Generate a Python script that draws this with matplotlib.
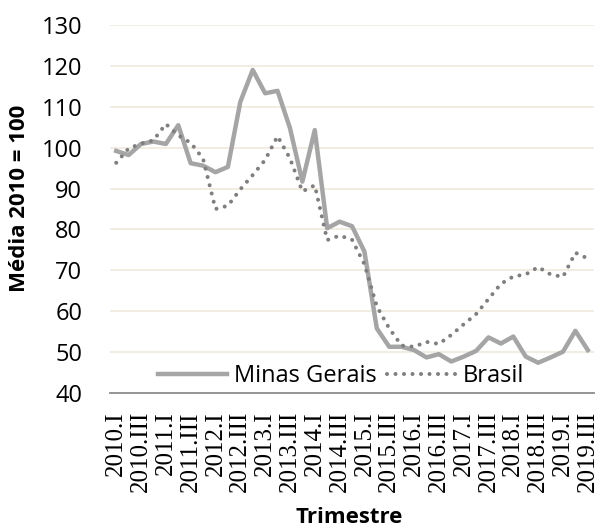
import matplotlib
matplotlib.use('Agg')
import matplotlib.pyplot as plt
import numpy as np

plt.rcParams['font.family'] = ['Open Sans', 'DejaVu Sans']

# quarters 2010.I .. 2019.III
quarters = []
for year in range(2010, 2020):
    for q in ['I', 'II', 'III', 'IV']:
        quarters.append(f'{year}.{q}')
quarters = quarters[:39]

minas_gerais = [99.2, 98.2, 100.9, 101.5, 100.9, 105.5, 96.2, 95.6, 94.0, 95.3,
                111.2, 119.0, 113.3, 113.9, 104.8, 91.7, 104.3, 80.3, 81.9, 80.8,
                74.6, 55.8, 51.3, 51.3, 50.5, 48.7, 49.5, 47.7, 48.9, 50.3,
                53.6, 52.1, 53.8, 48.9, 47.4, 48.7, 50.1, 55.2, 50.5]

brasil = [96.3, 99.8, 101.0, 101.8, 105.8, 103.0, 101.2, 97.3, 85.0, 85.8,
          89.8, 93.3, 97.0, 102.8, 97.4, 89.3, 90.8, 77.4, 78.5, 77.5,
          71.5, 61.2, 55.8, 51.6, 51.3, 52.5, 52.0, 54.2, 56.8, 59.3,
          63.0, 66.7, 68.5, 69.0, 70.8, 69.0, 68.4, 74.3, 72.9]

yticks = [40, 50, 60, 70, 80, 90, 100, 110, 120, 130]

W, H = 598, 529
fig = plt.figure(figsize=(W / 100, H / 100), dpi=100)
ax = fig.add_axes([110 / W, 1 - 393 / H, 484 / W, 368 / H])

x = np.arange(len(quarters))
ax.plot(x, minas_gerais, color='#A5A5A5', lw=3.2, solid_joinstyle='round',
        label='Minas Gerais', zorder=3)
ax.plot(x, brasil, color='#7F7F7F', lw=2.9, linestyle=(0, (0.01, 2.1)),
        dash_capstyle='round', label='Brasil', zorder=3)

ax.set_xlim(-0.5, len(quarters) - 0.5)
ax.set_ylim(40, 130)
ax.set_yticks(yticks)
ax.set_yticklabels([str(v) for v in yticks], fontsize=17)
ax.set_xticks(x[::2])
ax.set_xticklabels(quarters[::2], rotation=90, fontsize=18,
                   family='Liberation Serif')

for v in yticks[1:]:
    ax.axhline(v, color='#F0ECE1', lw=1.3, zorder=1)

for s in ['top', 'right', 'left']:
    ax.spines[s].set_visible(False)
ax.spines['bottom'].set_color('#8C8C8C')
ax.spines['bottom'].set_linewidth(1.3)
ax.tick_params(axis='both', length=0)
ax.tick_params(axis='y', pad=20)
ax.tick_params(axis='x', pad=13)

ax.legend(loc='center', bbox_to_anchor=(0.478, 0.046), ncol=2, frameon=False,
          fontsize=17, handlelength=2.9, handletextpad=0.3, columnspacing=0.45,
          borderpad=0, borderaxespad=0)

fig.text(20 / W, 1 - 198 / H, 'Média 2010 = 100', rotation=90, fontsize=16,
         fontweight='bold', ha='center', va='center')
fig.text(349 / W, 1 - 523 / H, 'Trimestre', fontsize=16, fontweight='bold',
         ha='center', va='baseline')

fig.savefig('out.png', dpi=100)
